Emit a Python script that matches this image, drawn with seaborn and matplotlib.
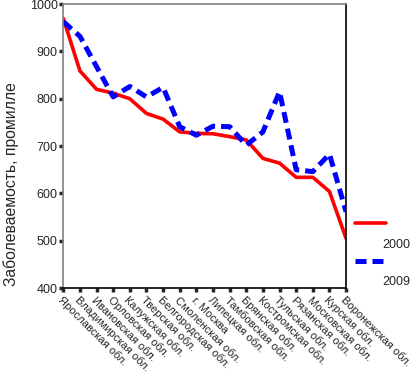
import pandas as pd
import seaborn as sns
import matplotlib
matplotlib.use("Agg")
import matplotlib.pyplot as plt
from matplotlib.lines import Line2D

regions = ["Ярославская обл.", "Владимирская обл.", "Ивановская обл.", "Орловская обл.",
           "Калужская обл.", "Тверская обл.", "Белгородская обл.", "Смоленская обл.",
           "г. Москва", "Липецкая обл.", "Тамбовская обл.", "Брянская обл.",
           "Костромская обл.", "Тульская обл.", "Рязанская обл.", "Московская обл.",
           "Курская обл.", "Воронежская обл."]
values_2000 = [970, 859, 820, 812, 800, 769, 757, 730, 727, 726, 720, 713, 674, 664, 634, 634, 604, 505]
values_2009 = [963, 932, 868, 804, 826, 804, 824, 741, 723, 742, 741, 702, 730, 815, 650, 646, 683, 561]
years = ["2000", "2009"]

df = pd.DataFrame({
    "x": list(range(len(regions))) * 2,
    "value": values_2000 + values_2009,
    "year": [years[0]] * len(regions) + [years[1]] * len(regions),
})

sns.set_style("white")
plt.rcParams["font.family"] = ["Liberation Sans", "DejaVu Sans"]

fig = plt.figure(figsize=(4.19, 3.77), dpi=100)
ax = fig.add_axes([0.151, 0.236, 0.675, 0.753])

palette = {"2000": "#ff0000", "2009": "#0000ff"}
sns.lineplot(data=df, x="x", y="value", hue="year", style="year", palette=palette,
             dashes={"2000": "", "2009": (2.2, 1.2)}, ax=ax, legend=False)
ax.lines[0].set_linewidth(2.6)
ax.lines[1].set_linewidth(3.6)

ax.set_xlim(0, len(regions) - 1)
ax.set_ylim(400, 1000)
ax.set_yticks([400, 500, 600, 700, 800, 900, 1000])
ax.set_xticks(range(len(regions)))
ax.set_xticklabels(regions, rotation=-45, ha="left", va="top", rotation_mode="anchor", fontsize=8.0)
ax.tick_params(axis="y", labelsize=9, length=3, width=2.5, direction="out", left=True, pad=1)
ax.tick_params(axis="x", length=3, width=2.5, direction="out", bottom=True, pad=2)
ax.set_xlabel("")
ax.set_ylabel("Заболеваемость, промилле", fontsize=11.3)
ax.yaxis.set_label_coords(-0.155, 0.366)

ax.spines["left"].set_color("#808080")
ax.spines["right"].set_color("#000000")
ax.spines["bottom"].set_color("#000000")
ax.spines["top"].set_color("#808080")
for sp in ax.spines.values():
    sp.set_linewidth(1.2)

# legend drawn outside the axes, label below each line
fig.add_artist(Line2D([355 / 419, 386 / 419], [1 - 223 / 377] * 2, color="#ff0000", lw=2.6))
fig.text(410 / 419, 1 - 245 / 377, "2000", ha="right", va="center", fontsize=9)
fig.add_artist(Line2D([355 / 419, 386 / 419], [1 - 261 / 377] * 2, color="#0000ff", lw=3.6,
                      dashes=(2.2, 1.2)))
fig.text(410 / 419, 1 - 282 / 377, "2009", ha="right", va="center", fontsize=9)

fig.savefig("out.png", dpi=100)
